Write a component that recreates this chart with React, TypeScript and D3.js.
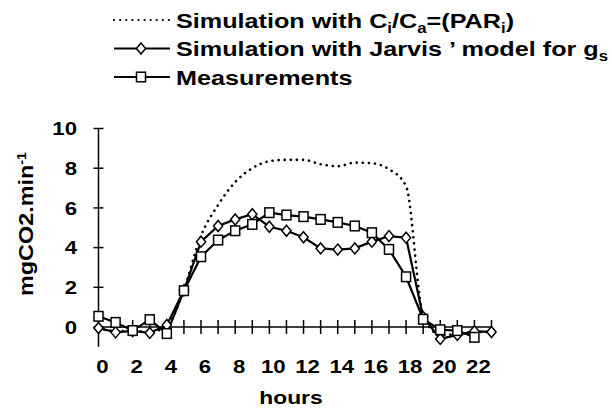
//@ts-nocheck
import { useEffect, useRef } from 'react';
import * as d3 from 'd3';

const hours = d3.range(0, 24);
const yTicks = [0, 2, 4, 6, 8, 10];
const xTickLabels = [0, 2, 4, 6, 8, 10, 12, 14, 16, 18, 20, 22];

// Simulation with Ci/Ca = (PARi), dotted
const simPar = [-0.05, -0.2, -0.2, -0.25, 0.05, 1.9, 4.6, 6.15, 7.3, 8.0, 8.35, 8.42, 8.42, 8.2, 8.1, 8.28, 8.25, 7.95, 7.1, 0.6, -0.4, -0.35, -0.25, -0.25];
// Simulation with Jarvis' model for gs, diamonds
const simJarvis = [-0.05, -0.27, -0.2, -0.3, 0.1, 1.85, 4.3, 5.09, 5.42, 5.68, 5.05, 4.85, 4.52, 3.96, 3.9, 3.96, 4.3, 4.58, 4.5, 0.5, -0.6, -0.4, -0.22, -0.25];
// Measurements, squares
const measured = [0.54, 0.23, -0.18, 0.37, -0.33, 1.83, 3.54, 4.38, 4.85, 5.17, 5.76, 5.64, 5.56, 5.42, 5.27, 5.09, 4.75, 3.91, 2.53, 0.39, -0.14, -0.18, -0.52];

const FONT = 'Arial, "Liberation Sans", Helvetica, sans-serif';
const SX = 1.2; // the lettering in the picture is wider than Arial

const App = () => {
    const svgRef = useRef();

    useEffect(() => {
        const svg = d3.select(svgRef.current);
        svg.selectAll('*').remove();

        const x = d3.scaleLinear().domain([0, 23]).range([98.5, 491.5]);
        const y = d3.scaleLinear().domain([0, 10]).range([327, 128.5]);

        // text helper, stretched along the reading direction
        const label = (px, py, size, anchor, rot = 0) =>
            svg.append('text')
                .attr('transform', `translate(${px},${py}) rotate(${rot}) scale(${SX},1)`)
                .attr('text-anchor', anchor)
                .style('font-family', FONT).style('font-size', size + 'px').style('font-weight', 'bold');

        // axes
        svg.append('line')
            .attr('x1', x(0)).attr('x2', x(0))
            .attr('y1', y(10)).attr('y2', y(-1))
            .attr('stroke', '#000').attr('stroke-width', 1.5);
        svg.append('line')
            .attr('x1', x(0)).attr('x2', x(23))
            .attr('y1', y(0)).attr('y2', y(0))
            .attr('stroke', '#000').attr('stroke-width', 1.5);

        // y ticks
        svg.selectAll('.ytick').data(yTicks).enter().append('line')
            .attr('x1', x(0) - 5).attr('x2', x(0) + 5)
            .attr('y1', d => y(d)).attr('y2', d => y(d))
            .attr('stroke', '#000').attr('stroke-width', 1.5);
        yTicks.forEach(d => label(77, y(d) + 6.7, 18.5, 'end').text(d));

        // x ticks
        svg.selectAll('.xtick').data(hours.slice(1)).enter().append('line')
            .attr('x1', d => x(d)).attr('x2', d => x(d))
            .attr('y1', y(0) - 7).attr('y2', y(0) + 7)
            .attr('stroke', '#000').attr('stroke-width', 1.5);
        xTickLabels.forEach(d => label(x(d) + 4, 373, 18.5, 'middle').text(d));

        // axis titles
        label(291, 404, 19, 'middle').text('hours');
        const yt = label(33, 224, 19.5, 'middle', -90);
        yt.append('tspan').text('mgCO2.min');
        yt.append('tspan').attr('dy', -7).style('font-size', '12px').text('-1');

        const line = d3.line().x((d, i) => x(i)).y(d => y(d));
        const smooth = d3.line().x((d, i) => x(i)).y(d => y(d)).curve(d3.curveMonotoneX);

        // dotted simulation
        svg.append('path')
            .attr('d', smooth(simPar))
            .attr('fill', 'none').attr('stroke', '#000')
            .attr('stroke-width', 2.6).attr('stroke-linecap', 'round')
            .attr('stroke-dasharray', '0.1 6');

        // Jarvis
        svg.append('path')
            .attr('d', line(simJarvis))
            .attr('fill', 'none').attr('stroke', '#000').attr('stroke-width', 2.2);
        // Measurements
        svg.append('path')
            .attr('d', line(measured))
            .attr('fill', 'none').attr('stroke', '#000').attr('stroke-width', 2.2);

        const diamond = (cx, cy) => `M${cx},${cy - 5.5}L${cx + 4.6},${cy}L${cx},${cy + 5.5}L${cx - 4.6},${cy}Z`;

        svg.selectAll('.dia').data(simJarvis).enter().append('path')
            .attr('d', (d, i) => diamond(x(i), y(d)))
            .attr('fill', '#fff').attr('stroke', '#000').attr('stroke-width', 1.5);
        svg.selectAll('.sq').data(measured).enter().append('rect')
            .attr('x', (d, i) => x(i) - 4.5).attr('y', d => y(d) - 4.8)
            .attr('width', 9).attr('height', 9.6)
            .attr('fill', '#fff').attr('stroke', '#000').attr('stroke-width', 1.5);

        // legend
        const tx = 176;
        const rows = [20, 48.5, 77];
        const sub = (t, s) => { t.append('tspan').attr('dy', 5).style('font-size', '14px').text(s); };
        const txt = (yy) => label(tx, yy + 7.5, 21, 'start');

        svg.append('line').attr('x1', 114).attr('x2', 170).attr('y1', rows[0]).attr('y2', rows[0])
            .attr('stroke', '#000').attr('stroke-width', 2.2).attr('stroke-linecap', 'round')
            .attr('stroke-dasharray', '0.1 6');
        const t1 = txt(rows[0]);
        t1.append('tspan').text('Simulation with C');
        sub(t1, 'i');
        t1.append('tspan').attr('dy', -5).text('/C');
        sub(t1, 'a');
        t1.append('tspan').attr('dy', -5).text('=(PAR');
        sub(t1, 'i');
        t1.append('tspan').attr('dy', -5).text(')');

        svg.append('line').attr('x1', 114).attr('x2', 170).attr('y1', rows[1]).attr('y2', rows[1])
            .attr('stroke', '#000').attr('stroke-width', 2.2);
        svg.append('path').attr('d', diamond(141, rows[1]))
            .attr('fill', '#fff').attr('stroke', '#000').attr('stroke-width', 1.5);
        const t2 = txt(rows[1]);
        t2.append('tspan').text('Simulation with Jarvis \u2019 model for g');
        sub(t2, 's');

        svg.append('line').attr('x1', 114).attr('x2', 170).attr('y1', rows[2]).attr('y2', rows[2])
            .attr('stroke', '#000').attr('stroke-width', 2.2);
        svg.append('rect').attr('x', 136.5).attr('y', rows[2] - 4.8).attr('width', 9).attr('height', 9.6)
            .attr('fill', '#fff').attr('stroke', '#000').attr('stroke-width', 1.5);
        txt(rows[2]).text('Measurements');
    }, []);

    return (
        <svg ref={svgRef} width={612} height={410} style={{ position: 'absolute', left: 0, top: 0, background: '#fff' }}></svg>
    );
};

export default App;
